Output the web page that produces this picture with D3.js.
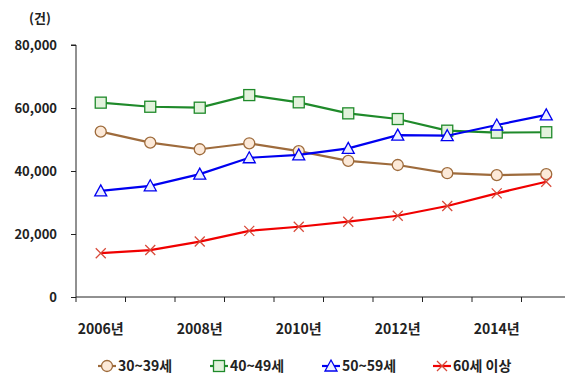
<!DOCTYPE html>
<html>
<head>
<meta charset="utf-8">
<script src="https://cdn.jsdelivr.net/npm/d3@7"></script>
<style>
  body { margin: 0; background: #fff; }
  text { font-family: "Noto Sans CJK KR", "Noto Sans", sans-serif; }
</style>
</head>
<body>
<svg width="565" height="377"></svg>
<script>
const years = ['2006', '2007', '2008', '2009', '2010', '2011', '2012', '2013', '2014', '2015'];
const yTicks = [0, 20000, 40000, 60000, 80000];
const age30 = [52500, 49000, 46900, 48800, 46300, 43200, 41900, 39300, 38700, 39000];
const age40 = [61700, 60400, 60100, 64100, 61800, 58300, 56500, 52800, 52200, 52300];
const age50 = [33700, 35300, 39000, 44200, 45100, 47200, 51400, 51200, 54600, 57800];
const age60 = [13900, 14900, 17600, 21000, 22300, 23900, 25800, 28900, 32900, 36600];

const series = [
  { name: '30~39세', values: age30, color: '#9e6b3c', fill: '#fce9d8', marker: 'circle' },
  { name: '40~49세', values: age40, color: '#1f8a2a', fill: '#e2f2dc', marker: 'square' },
  { name: '50~59세', values: age50, color: '#0000f0', fill: '#eef0ff', marker: 'triangle' },
  { name: '60세 이상', values: age60, color: '#f00000', fill: 'none', marker: 'cross' }
];

const svg = d3.select('svg');

const x = d3.scaleBand().domain(years).range([76, 571]);
const y = d3.scaleLinear().domain([0, 80000]).range([297, 45]);

// axes
const yAxis = svg.append('g')
  .attr('transform', 'translate(76,0)')
  .call(d3.axisLeft(y).tickValues(yTicks).tickSize(5).tickPadding(14).tickFormat(d3.format(',')));
yAxis.select('.domain').attr('d', 'M-5,45H0V297');

const xAxis = svg.append('g')
  .attr('transform', 'translate(0,297)')
  .call(d3.axisBottom(x).tickSize(0).tickFormat(''));
xAxis.select('.domain').attr('d', 'M76,0H565');
// tick marks on band edges
xAxis.selectAll('.edge')
  .data(years.map(d => x(d)))
  .enter().append('line')
  .attr('x1', d => d).attr('x2', d => d)
  .attr('y1', 0).attr('y2', 5)
  .attr('stroke', '#222');
xAxis.selectAll('.yl')
  .data(years.filter((d, i) => i % 2 === 0))
  .enter().append('text')
  .attr('x', d => x(d) + x.bandwidth() / 2)
  .attr('y', 37)
  .attr('text-anchor', 'middle')
  .attr('fill', '#222')
  .attr('font-size', 14)
  .attr('font-weight', 'bold')
  .text(d => d + '년');

svg.selectAll('.domain, .tick line').attr('stroke', '#222');
yAxis.selectAll('.tick text')
  .attr('font-size', 13)
  .attr('font-weight', 'bold')
  .attr('fill', '#222')
  .style('font-family', '"Noto Sans CJK KR", sans-serif');

svg.append('text')
  .attr('x', 40).attr('y', 23)
  .attr('text-anchor', 'middle')
  .attr('font-size', 13)
  .attr('font-weight', 'bold')
  .attr('fill', '#222')
  .text('(건)');

const cx = (d, i) => x(years[i]) + x.bandwidth() / 2;

function drawMarker(g, s, px, py) {
  if (s.marker === 'circle') {
    g.append('circle').attr('cx', px).attr('cy', py).attr('r', 5.5)
      .attr('fill', s.fill).attr('stroke', s.color).attr('stroke-width', 1.3);
  } else if (s.marker === 'square') {
    g.append('rect').attr('x', px - 5.5).attr('y', py - 5.5).attr('width', 11).attr('height', 11)
      .attr('fill', s.fill).attr('stroke', s.color).attr('stroke-width', 1.3);
  } else if (s.marker === 'triangle') {
    g.append('path').attr('d', `M${px},${py - 6}L${px + 6},${py + 5}L${px - 6},${py + 5}Z`)
      .attr('fill', s.fill).attr('stroke', s.color).attr('stroke-width', 1.3);
  } else {
    g.append('path').attr('d', `M${px - 5},${py - 5}L${px + 5},${py + 5}M${px - 5},${py + 5}L${px + 5},${py - 5}`)
      .attr('stroke', '#d84a3a').attr('stroke-width', 1.3).attr('fill', 'none');
  }
}

const line = d3.line().x(cx).y(d => y(d));

series.forEach(s => {
  const g = svg.append('g');
  g.append('path')
    .attr('d', line(s.values))
    .attr('fill', 'none')
    .attr('stroke', s.color)
    .attr('stroke-width', 2.2);
  s.values.forEach((v, i) => drawMarker(g, s, cx(v, i), y(v)));
});

// legend
const legendX = [98, 210, 322, 433];
const lg = svg.append('g');
series.forEach((s, i) => {
  const lx = legendX[i], ly = 366;
  lg.append('line').attr('x1', lx).attr('x2', lx + 18).attr('y1', ly).attr('y2', ly)
    .attr('stroke', s.color).attr('stroke-width', 2.2);
  drawMarker(lg, s, lx + 9, ly);
  lg.append('text')
    .attr('x', lx + 20).attr('y', ly + 5)
    .attr('font-size', 14)
    .attr('font-weight', 'bold')
    .attr('fill', '#222')
    .text(s.name);
});
</script>
</body>
</html>
